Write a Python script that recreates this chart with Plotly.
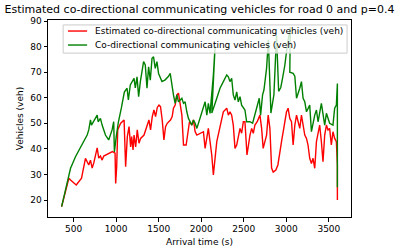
import plotly.graph_objects as go

# Estimated co-directional communicating vehicles (red)
est_time = [360, 445, 465, 532, 594, 640, 679, 699, 719, 738, 778, 796, 816, 836, 855, 913, 957, 988,
            995, 1007, 1019, 1035, 1054, 1094, 1112, 1132, 1152, 1171, 1183, 1199, 1211, 1230, 1249,
            1269, 1288, 1328, 1347, 1367, 1386, 1405, 1425, 1445, 1464, 1484, 1504, 1522, 1542, 1562,
            1581, 1601, 1639, 1659, 1674, 1694, 1714, 1733, 1753, 1773, 1792, 1823, 1843, 1862, 1878,
            1890, 1909, 1929, 1949, 1987, 2026, 2046, 2084, 2124, 2143, 2183, 2221, 2260, 2300, 2319,
            2338, 2358, 2377, 2397, 2417, 2436, 2456, 2475, 2495, 2514, 2538, 2573, 2593, 2612, 2631,
            2658, 2690, 2710, 2728, 2768, 2787, 2807, 2827, 2846, 2877, 2901, 2924, 2947, 2971, 3002,
            3021, 3041, 3061, 3080, 3100, 3120, 3139, 3158, 3178, 3197, 3217, 3237, 3255, 3275, 3295,
            3314, 3334, 3354, 3373, 3392, 3412, 3431, 3451, 3471, 3490, 3509, 3529, 3548, 3568, 3588,
            3600, 3600]
est_vehicles = [17.4, 28.5, 27.8, 25.9, 28.5, 36.3, 33.7, 35.6, 32.5, 34.5, 40.4, 36.4, 37.2, 35.6, 37.2,
                38.3, 38.9, 38.3, 26.5, 33.0, 47.4, 48.7, 50.0, 51.3, 33.0, 44.8, 48.7, 40.8, 44.8, 39.6,
                45.4, 40.8, 47.4, 42.2, 44.1, 45.4, 47.4, 50.0, 51.3, 47.4, 52.6, 55.2, 52.6, 56.2, 57.1,
                56.5, 51.3, 43.5, 48.7, 50.0, 51.3, 52.6, 55.9, 57.1, 61.1, 61.8, 57.8, 53.2, 41.5, 41.5,
                46.1, 50.6, 50.0, 49.3, 51.3, 46.7, 45.4, 46.1, 46.7, 40.2, 48.0, 37.6, 29.8, 42.8, 49.3,
                54.5, 55.9, 53.2, 54.5, 53.2, 49.3, 40.2, 41.5, 45.4, 48.0, 46.1, 50.6, 50.6, 37.6, 45.4,
                48.0, 46.1, 49.3, 50.6, 53.2, 48.0, 40.2, 45.4, 53.2, 48.0, 32.5, 30.9, 31.7, 33.7, 39.6,
                43.5, 48.2, 54.4, 55.9, 51.9, 50.6, 41.5, 49.3, 53.2, 50.6, 48.0, 53.2, 49.3, 45.4, 44.1,
                41.5, 36.3, 34.3, 36.3, 32.4, 42.8, 46.7, 49.3, 42.8, 35.0, 45.4, 49.3, 47.4, 48.0, 41.5,
                46.7, 44.1, 42.8, 33.7, 20.0]

# Co-directional communicating vehicles (green)
co_time = [360, 465, 523, 582, 640, 660, 679, 699, 711, 731, 749, 778, 789, 816, 836, 855, 875, 913, 953,
           972, 980, 1004, 1027, 1062, 1097, 1129, 1144, 1167, 1211, 1226, 1246, 1265, 1285, 1323, 1343,
           1363, 1382, 1402, 1422, 1440, 1460, 1480, 1499, 1539, 1577, 1616, 1636, 1674, 1694, 1714, 1733,
           1753, 1773, 1792, 1811, 1831, 1850, 1870, 1890, 1909, 1929, 1949, 1987, 2026, 2046, 2066, 2084,
           2104, 2124, 2143, 2163, 2125, 2183, 2221, 2260, 2300, 2319, 2338, 2358, 2377, 2397, 2417, 2436,
           2456, 2475, 2514, 2534, 2573, 2604, 2631, 2658, 2682, 2698, 2721, 2737, 2768, 2789, 2819, 2854,
           2885, 2910, 2935, 2956, 2983, 3012, 3047, 3041, 3080, 3100, 3120, 3158, 3178, 3197, 3217, 3237,
           3275, 3295, 3314, 3334, 3354, 3373, 3412, 3431, 3451, 3471, 3509, 3548, 3568, 3588, 3600, 3600]
co_vehicles = [17.4, 32.4, 36.9, 40.8, 44.1, 45.4, 47.4, 51.3, 49.3, 50.6, 51.3, 53.2, 50.6, 51.9, 49.3,
               47.4, 45.4, 43.5, 47.4, 50.6, 38.8, 45.4, 50.5, 56.0, 62.2, 63.7, 59.1, 65.0, 67.6, 63.8,
               68.2, 60.4, 66.3, 74.1, 72.8, 63.7, 72.1, 66.9, 75.4, 76.0, 71.5, 74.1, 69.5, 66.3, 67.0,
               68.4, 69.5, 61.1, 57.8, 61.1, 58.4, 59.1, 59.8, 57.8, 58.4, 54.5, 51.9, 50.6, 49.3, 51.3,
               50.0, 48.0, 51.9, 55.9, 58.4, 53.2, 57.8, 53.9, 61.1, 68.9, 80.0, 54.0, 59.8, 63.7, 66.3,
               68.9, 68.2, 66.3, 67.6, 61.1, 59.1, 62.3, 58.4, 60.4, 57.1, 55.2, 50.6, 50.6, 50.0, 53.2,
               57.1, 59.8, 53.2, 61.1, 63.0, 71.5, 82.6, 54.0, 61.1,
               84.5, 62.5, 64.0, 67.7, 72.8, 80.6, 87.6, 70.0, 69.5, 68.4, 59.8, 63.7, 66.3, 59.8, 58.4,
               54.5, 57.1, 46.7, 50.6, 53.2, 55.2, 50.6, 57.8, 53.2, 49.3, 53.9, 50.0, 49.3, 55.9, 57.1,
               65.6, 25.0]

series_names = ["Estimated co-directional communicating vehicles (veh)",
                "Co-directional communicating vehicles (veh)"]
series_colors = ["#ff0000", "#008000"]

x_ticks = [500, 1000, 1500, 2000, 2500, 3000, 3500]
y_ticks = [20, 30, 40, 50, 60, 70, 80, 90]

FONT = "DejaVu Sans"
FS = 9

fig = go.Figure()
fig.add_trace(go.Scatter(x=est_time, y=est_vehicles, mode="lines", name=series_names[0],
                         line=dict(color=series_colors[0], width=1.4), showlegend=False))
fig.add_trace(go.Scatter(x=co_time, y=co_vehicles, mode="lines", name=series_names[1],
                         line=dict(color=series_colors[1], width=1.4), showlegend=False))

axis_common = dict(showline=True, mirror=True, linecolor="black", linewidth=1,
                   ticks="outside", ticklen=3.5, tickwidth=1, tickcolor="black",
                   showgrid=False, zeroline=False, automargin=False,
                   tickfont=dict(family=FONT, size=FS, color="black"))

# legend drawn as a box in the upper-left corner of the axes (paper coordinates)
shapes = [dict(type="rect", xref="paper", yref="paper", x0=0.05, x1=0.987, y0=0.832, y1=0.975,
               fillcolor="rgba(255,255,255,0.8)", line=dict(color="#cccccc", width=1), layer="above")]
annotations = []
row_y = [0.944, 0.873]
for name, color, yy in zip(series_names, series_colors, row_y):
    shapes.append(dict(type="line", xref="paper", yref="paper", x0=0.066, x1=0.129, y0=yy, y1=yy,
                       line=dict(color=color, width=1.4), layer="above"))
    annotations.append(dict(text=name, xref="paper", yref="paper", x=0.148, y=yy,
                            xanchor="left", yanchor="middle", showarrow=False,
                            font=dict(family=FONT, size=FS, color="black")))

fig.update_layout(
    width=399, height=251,
    margin=dict(l=48, r=48, t=20, b=34),
    paper_bgcolor="white", plot_bgcolor="white",
    font=dict(family=FONT, size=FS, color="black"),
    title=dict(text="Estimated co-directional communicating vehicles for road 0 and p=0.4",
               x=0.5, xref="container", xanchor="center", y=0.964, yref="container", yanchor="middle",
               font=dict(family=FONT, size=11, color="black")),
    xaxis=dict(range=[200, 3760], tickvals=x_ticks,
               title=dict(text="Arrival time (s)", standoff=5,
                          font=dict(family=FONT, size=FS, color="black")),
               **axis_common),
    yaxis=dict(range=[13.35, 90.4], tickvals=y_ticks,
               title=dict(text="Vehicles (veh)", standoff=5,
                          font=dict(family=FONT, size=FS, color="black")),
               **axis_common),
    shapes=shapes,
    annotations=annotations,
    showlegend=False,
    hovermode=False,
)

fig.write_html("out.html", config={"displayModeBar": False, "staticPlot": True},
               post_script="document.body.style.margin='0';")
